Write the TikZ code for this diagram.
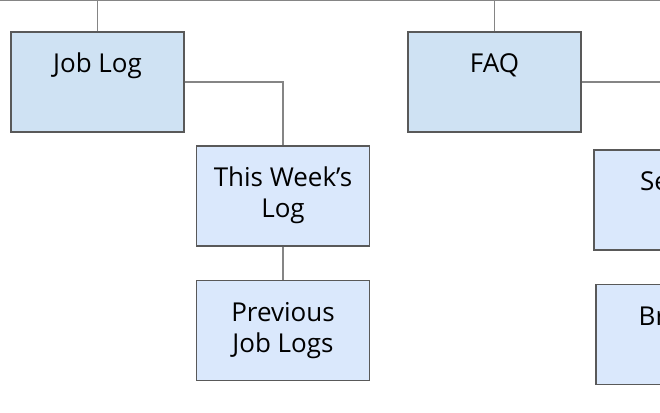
\documentclass[tikz,border=0pt]{standalone}
\usepackage{fontspec}
\setmainfont{Open Sans}
\definecolor{topfill}{HTML}{CFE2F3}
\definecolor{subfill}{HTML}{DAE8FC}
\definecolor{edge}{HTML}{595959}
\definecolor{wire}{HTML}{858585}
\newcommand{\boxtext}[2][\centering]{\parbox[c][100pt][t]{173pt}{#1\rule{0pt}{40.5pt}#2}}
\tikzset{
  box/.style={draw=edge, line width=1.3pt, minimum width=173pt, minimum height=100pt,
    inner sep=0pt, font=\fontsize{26}{31.3}\selectfont},
  mainbox/.style={box, fill=topfill},
  subbox/.style={box, fill=subfill},
  wire/.style={draw=wire, line width=1.1pt}
}
\begin{document}
\begin{tikzpicture}[x=1pt,y=-1pt]
  \useasboundingbox (0,0) rectangle (660,412);
  \clip (0,0) rectangle (660,412);
  \fill[white] (0,0) rectangle (660,412);
  \coordinate (busL) at (-10,0.8);
  \coordinate (busR) at (670,0.8);
  % top level
  \node[mainbox] (joblog) at (97.5,82) {\boxtext{Job Log}};
  \node[mainbox] (faq) at (494.5,82) {\boxtext{FAQ}};
  % under Job Log
  \node[subbox] (week) at (283,196) {\boxtext{This Week's\\Log}};
  \node[subbox] (prev) at (283,330.5) {\boxtext{Previous\\Job Logs}};
  % under FAQ, cut off at the right
  \node[subbox] (se) at (680.5,200) {\boxtext[\raggedright\hspace*{46pt}]{Se}};
  \node[subbox] (br) at (682.5,334.5) {\boxtext[\raggedright\hspace*{42.7pt}]{Br}};
  % connectors
  \draw[wire] (busL) -- (busR);
  \draw[wire] (joblog.north) -- (joblog.north |- busL);
  \draw[wire] (faq.north) -- (faq.north |- busL);
  \draw[wire] (joblog.east) -| (week.north);
  \draw[wire] (week.south) -- (prev.north);
  \draw[wire] (faq.east) -| (se.north);
\end{tikzpicture}
\end{document}
